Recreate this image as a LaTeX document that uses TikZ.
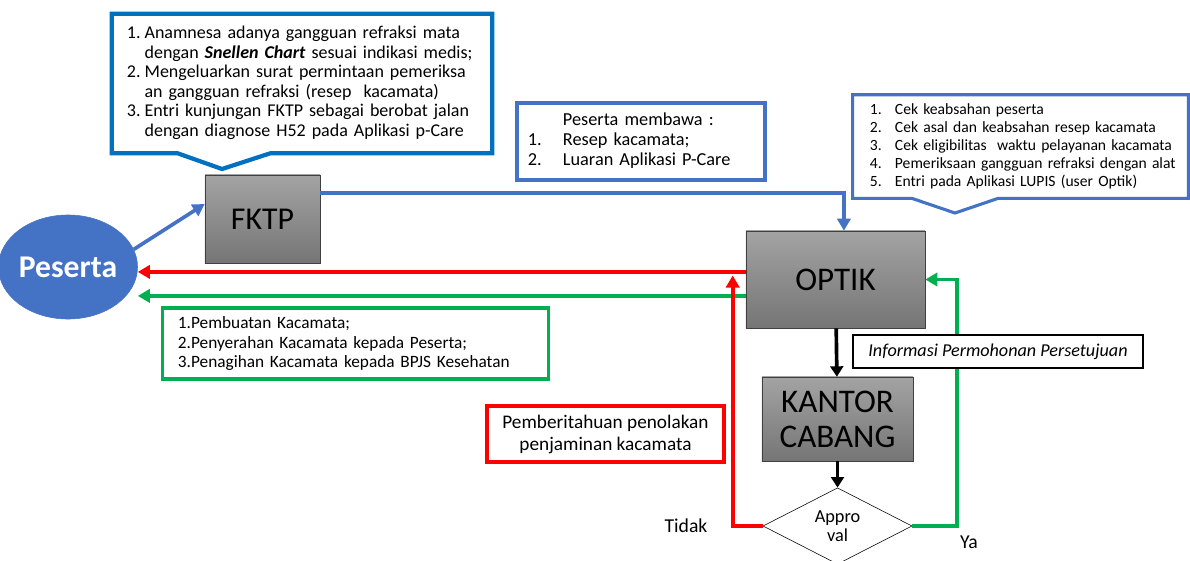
\documentclass[tikz,border=0pt]{standalone}
\usepackage{fontspec}
\setmainfont{Carlito}
\usepackage{tikz}
\usetikzlibrary{arrows.meta,positioning,shapes.geometric,calc}
\definecolor{pesertablue}{HTML}{4472C4}
\definecolor{noteblue}{HTML}{0070C0}
\definecolor{okgreen}{HTML}{00B050}
\definecolor{nored}{HTML}{FF0000}
\definecolor{boxedge}{HTML}{404040}
\tikzset{
  block/.style={draw=boxedge,top color=black!36,bottom color=black!54,align=center,font=\fontsize{23.5}{26}\selectfont},
  notebox/.style={fill=white,inner ysep=0pt,align=left},
  arrow/.style={-{Triangle[length=3mm,width=3.3mm]},line width=2.6pt},
  bluearrow/.style={arrow,pesertablue},
  redarrow/.style={arrow,nored},
  greenarrow/.style={arrow,okgreen},
  blackarrow/.style={arrow,black,-{Triangle[length=2.6mm,width=3.2mm]}}
}

\begin{document}
\begin{tikzpicture}[
  x=0.025cm,y=-0.025cm,
  peserta/.style={ellipse,fill=pesertablue,draw=pesertablue,text=white,minimum width=2.925cm,minimum height=2.6cm,inner sep=0pt,font=\fontsize{22.5}{26}\selectfont\bfseries},
  decision/.style={diamond,draw,fill=white,minimum width=3.725cm,minimum height=1.9cm,inner sep=0pt,align=center,font=\fontsize{13}{13.5}\selectfont},
  label/.style={font=\fontsize{14}{16}\selectfont}
]
  \useasboundingbox (0,0) rectangle (1190,560);
  \clip (0,0) rectangle (1190,560);

  % Main blocks
  \node[peserta] (peserta) at (68,267) {Peserta};
  \node[block,minimum width=2.875cm,minimum height=2.2cm,font=\fontsize{22.6}{26}\selectfont] (fktp) at (262.5,219) {FKTP};
  \node[block,minimum width=4.475cm,minimum height=2.425cm] (optik) at (835.5,279.5) {OPTIK};
  \node[block,minimum width=3.775cm,minimum height=2.1cm,font=\fontsize{23.5}{24.8}\selectfont] (kc) at (837.5,419) {KANTOR\\CABANG};
  \node[decision] (appr) at (837.5,526) {Appro\\val};

  % Callout above FKTP
  \node[notebox,minimum width=9.5cm,minimum height=3.475cm,inner xsep=0.375cm,text width=8.75cm,font=\fontsize{12.8}{13.9}\selectfont] (anamnesa) at (302,83.5) {%
    \begin{tabular}{@{}l@{\hspace{0.1cm}}l@{}}
    1. & Anamnesa adanya gangguan refraksi mata\\
       & dengan \textbf{\textit{Snellen Chart}} sesuai indikasi medis;\\
    2. & Mengeluarkan surat permintaan pemeriksa\\
       & an gangguan refraksi (resep\ \ kacamata)\\
    3. & Entri kunjungan FKTP sebagai berobat jalan\\
       & dengan diagnose H52 pada Aplikasi p-Care
    \end{tabular}};
  \draw[noteblue,line width=3pt] (anamnesa.north west) -- (anamnesa.north east) -- (anamnesa.south east)
    -- ([xshift=-5.55cm]anamnesa.south east) -- (222,169) -- ([xshift=1.65cm]anamnesa.south west)
    -- (anamnesa.south west) -- cycle;

  % Callout above OPTIK
  \node[notebox,minimum width=8.375cm,minimum height=2.575cm,inner xsep=0.425cm,text width=7.525cm,font=\fontsize{11.1}{12.8}\selectfont] (cek) at (1020.5,146.5) {%
    \begin{tabular}{@{}p{0.625cm}@{}l@{}}
    1. & Cek keabsahan peserta\\
    2. & Cek asal dan keabsahan resep kacamata\\
    3. & Cek eligibilitas\ \ waktu pelayanan kacamata\\
    4. & Pemeriksaan gangguan refraksi dengan alat\\
    5. & Entri pada Aplikasi LUPIS (user Optik)
    \end{tabular}};
  \draw[pesertablue,line width=2.2pt] (cek.north west) -- (cek.north east) -- (cek.south east)
    -- ([xshift=-4.75cm]cek.south east) -- (955,213) -- ([xshift=1.475cm]cek.south west)
    -- (cek.south west) -- cycle;

  \node[notebox,draw=pesertablue,line width=2.2pt,minimum width=6.2cm,minimum height=1.925cm,inner xsep=0.275cm,text width=5.65cm,font=\fontsize{13}{14.5}\selectfont] (membawa) at (641,141.5) {%
    \begin{tabular}{@{}p{0.875cm}@{}l@{}}
       & Peserta membawa :\\
    1. & Resep kacamata;\\
    2. & Luaran Aplikasi P-Care
    \end{tabular}};

  % Connectors
  \draw[bluearrow] (peserta.15) -- ([yshift=0.375cm]fktp.west);
  \draw[bluearrow] ([yshift=0.65cm]fktp.east) -| ([xshift=0.21cm]optik.north);
  \coordinate (rstart) at ([yshift=0.19cm]optik.west);
  \coordinate (gstart) at ([yshift=-0.41cm]optik.west);
  \draw[redarrow] (rstart) -- (rstart -| peserta.east);
  \draw[greenarrow] (gstart) -- (gstart -| peserta.east);
  \draw[blackarrow] (optik) -- (kc);
  \draw[blackarrow] (kc) -- (appr);
  \draw[redarrow] (appr.west) -| ([xshift=-0.325cm,yshift=0.1cm]optik.west);
  \draw[greenarrow] (appr.east) -| ([xshift=0.8cm]optik.east) -- (optik.east);

  % Side notes
  \node[notebox,draw=okgreen,line width=2.2pt,minimum width=9.625cm,minimum height=1.775cm,inner xsep=0.375cm,text width=8.875cm,font=\fontsize{12.3}{13.6}\selectfont] (hasil) at (355.5,343.5) {%
    1.Pembuatan Kacamata;\\
    2.Penyerahan Kacamata kepada Peserta;\\
    3.Penagihan Kacamata kepada BPJS Kesehatan};
  \node[notebox,draw=nored,line width=2.2pt,minimum width=5.925cm,minimum height=1.4cm,align=center,font=\fontsize{13.7}{15.6}\selectfont] (tolak) at (605.5,434) {Pemberitahuan penolakan\\penjaminan kacamata};
  \node[notebox,draw=black,line width=0.8pt,minimum width=7.25cm,minimum height=0.825cm,align=center,font=\fontsize{12.9}{14}\selectfont\itshape] (info) at (998,351.5) {Informasi Permohonan Persetujuan};
  \node[label] (tidak) at (686,526) {Tidak};
  \node[label] (ya) at (969,542) {Ya};
\end{tikzpicture}
\end{document}
